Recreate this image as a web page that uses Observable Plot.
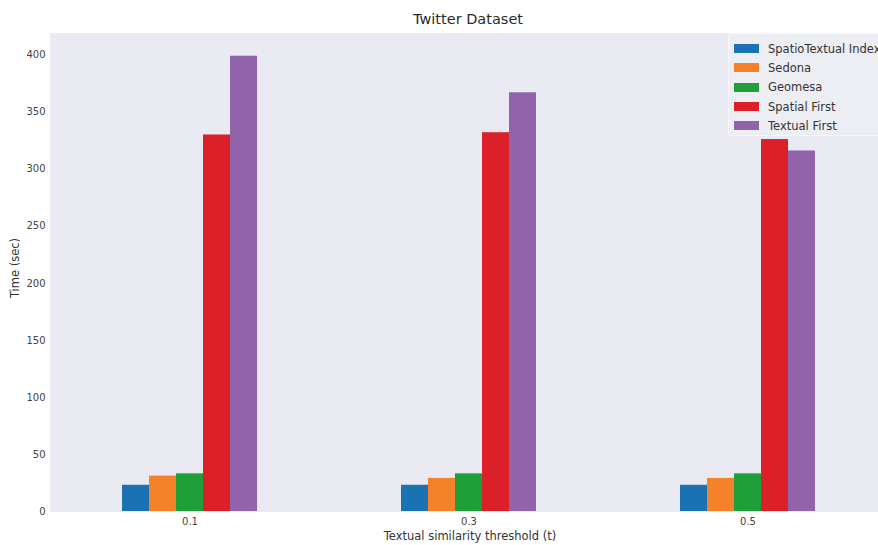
<!DOCTYPE html>
<html>
<head>
<meta charset="utf-8">
<script src="https://cdn.jsdelivr.net/npm/d3@7"></script>
<script src="https://cdn.jsdelivr.net/npm/@observablehq/plot@0.6"></script>
<style>
  html, body { margin: 0; padding: 0; background: #fff; overflow: hidden; }
  #wrap { position: relative; width: 878px; height: 545px; overflow: hidden; font-family: "DejaVu Sans", sans-serif; color: #333; }
  #chart { position: absolute; left: 0; top: 0; width: 887px; }
  .title { position: absolute; left: 368px; width: 200px; top: 11px; text-align: center; font-size: 14.5px; color: #2b2b2b; white-space: nowrap; }
  .xlabel { position: absolute; left: 320px; width: 300px; top: 529px; text-align: center; font-size: 11.5px; color: #333; white-space: nowrap; }
  .ylabel { position: absolute; left: 15px; top: 268px; transform: translate(-50%, -50%) rotate(-90deg); font-size: 11.5px; color: #333; white-space: nowrap; }
  .legend { position: absolute; left: 728px; top: 33px; width: 200px; height: 103px; box-sizing: border-box; background: #ededf4; border: 1px solid #f7f7fb; border-radius: 3px; padding-top: 5px; }
  .legend .row { height: 19.3px; display: flex; align-items: center; font-size: 11.5px; color: #333; white-space: nowrap; }
  .legend .sw { width: 25px; height: 9px; margin-left: 5px; margin-right: 9px; flex: none; }
</style>
</head>
<body>
<div id="wrap">
  <div id="chart"></div>
  <div class="title">Twitter Dataset</div>
  <div class="ylabel">Time (sec)</div>
  <div class="xlabel">Textual similarity threshold (t)</div>
  <div class="legend" id="legend"></div>
</div>
<script>
// Query time per method at each textual similarity threshold
const thresholds = ["0.1", "0.3", "0.5"];
const methods = ["SpatioTextual Index", "Sedona", "Geomesa", "Spatial First", "Textual First"];
const spatioTextualIndex = [23, 23, 23];
const sedona = [31, 29, 29];
const geomesa = [33, 33, 33];
const spatialFirst = [330, 332, 326];
const textualFirst = [399, 367, 316];
const colors = ["#1a72b2", "#f3822a", "#1f9e3a", "#dc2029", "#9063ab"];
const yTicks = [0, 50, 100, 150, 200, 250, 300, 350, 400];

const seriesValues = [spatioTextualIndex, sedona, geomesa, spatialFirst, textualFirst];
const rows = [];
thresholds.forEach((t, i) => {
  methods.forEach((m, j) => rows.push({threshold: t, method: m, time: seriesValues[j][i]}));
});

const yMax = d3.max(rows, d => d.time) * 1.05;

const chart = Plot.plot({
  width: 887,
  height: 545,
  marginTop: 33,
  marginBottom: 34,
  marginLeft: 50,
  marginRight: 0,
  style: {fontFamily: "DejaVu Sans, sans-serif", fontSize: "10px", color: "#444", background: "transparent", maxWidth: "none"},
  fx: {domain: thresholds, padding: 0, axis: "bottom", label: null, tickSize: 0, tickPadding: 6},
  x: {domain: methods, paddingInner: 0, paddingOuter: 2.5, axis: null},
  y: {domain: [0, yMax], ticks: yTicks, tickSize: 0, tickPadding: 5, label: null},
  color: {domain: methods, range: colors},
  marks: [
    // axes background, one panel per threshold; the stroke closes the seams between panels
    Plot.frame({fill: "#eaeaf2", stroke: "#eaeaf2", strokeWidth: 1}),
    Plot.barY(rows, {fx: "threshold", x: "method", y: "time", fill: "method"})
  ]
});
document.getElementById("chart").appendChild(chart);

// Legend entries
const legend = document.getElementById("legend");
methods.forEach((m, i) => {
  const row = document.createElement("div");
  row.className = "row";
  const sw = document.createElement("span");
  sw.className = "sw";
  sw.style.background = colors[i];
  const label = document.createElement("span");
  label.textContent = m;
  row.appendChild(sw);
  row.appendChild(label);
  legend.appendChild(row);
});
</script>
</body>
</html>
